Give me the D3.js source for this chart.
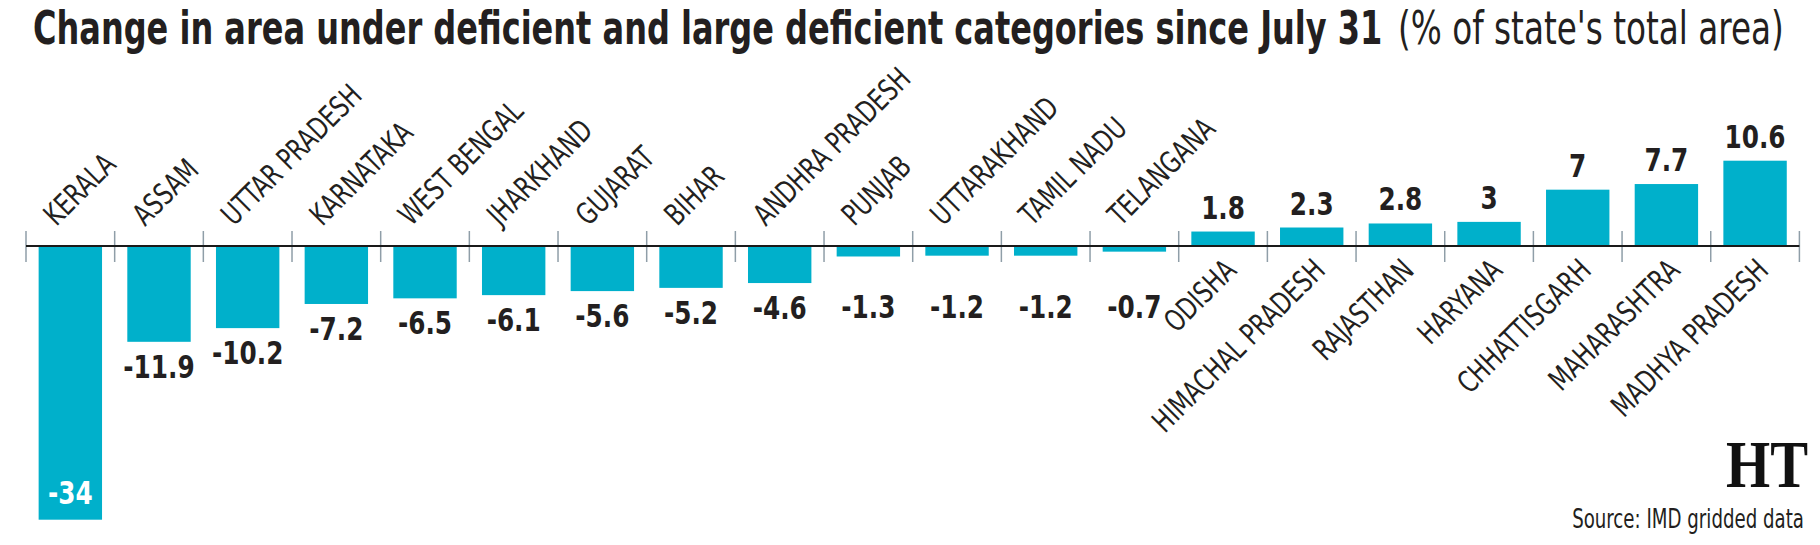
<!DOCTYPE html>
<meta charset="utf-8">
<style>
  body { margin: 0; background: #fff; }
</style>

<!-- Load d3.js -->
<script src="https://d3js.org/d3.v7.min.js"></script>

<div id="my_dataviz"></div>

<script>
// data
var states = ["KERALA", "ASSAM", "UTTAR PRADESH", "KARNATAKA", "WEST BENGAL", "JHARKHAND",
  "GUJARAT", "BIHAR", "ANDHRA PRADESH", "PUNJAB", "UTTARAKHAND", "TAMIL NADU", "TELANGANA",
  "ODISHA", "HIMACHAL PRADESH", "RAJASTHAN", "HARYANA", "CHHATTISGARH", "MAHARASHTRA", "MADHYA PRADESH"];
var change = [-34, -11.9, -10.2, -7.2, -6.5, -6.1, -5.6, -5.2, -4.6, -1.3, -1.2, -1.2, -0.7,
  1.8, 2.3, 2.8, 3, 7, 7.7, 10.6];
var valueLabels = ["-34", "-11.9", "-10.2", "-7.2", "-6.5", "-6.1", "-5.6", "-5.2", "-4.6", "-1.3",
  "-1.2", "-1.2", "-0.7", "1.8", "2.3", "2.8", "3", "7", "7.7", "10.6"];

var width = 1820, height = 545;
var ink = "#231f20", barColor = "#00b0cb";
var cond = "'Liberation Sans Narrow', 'DejaVu Sans Condensed', 'Roboto', sans-serif";

var svg = d3.select("#my_dataviz")
  .append("svg")
    .attr("width", width)
    .attr("height", height);

// squeeze a text horizontally so it is w pixels wide (the font here is wider than the original)
function squeeze(sel, x, y, w, extra) {
  var n = sel.node().getComputedTextLength();
  sel.attr("x", null).attr("y", null)
    .attr("transform", "translate(" + x + "," + y + ")" + (extra || "") + " scale(" + (w / n) + ",1)");
}

// scales
var x = d3.scaleBand()
  .domain(states)
  .range([26, 1799.4])
  .paddingInner(0.285)
  .paddingOuter(0.1425);

var y = d3.scaleLinear()
  .domain([-34, 10.6])
  .range([519.7, 160.7]);

var base = y(0);
var step = x.step();
var gap = (step - x.bandwidth()) / 2;

// title, two pieces
var t1 = svg.append("text")
  .attr("font-family", cond).attr("font-weight", "bold").attr("font-size", 46)
  .attr("fill", ink)
  .text("Change in area under deficient and large deficient categories since July 31");
squeeze(t1, 33, 44, 1350);

var t2 = svg.append("text")
  .attr("font-family", cond).attr("font-size", 46)
  .attr("fill", ink)
  .text("(% of state's total area)");
squeeze(t2, 1398, 44, 386);

// bars
svg.selectAll("rect.bar")
  .data(states)
  .enter()
  .append("rect")
    .attr("class", "bar")
    .attr("x", function(d) { return x(d); })
    .attr("width", x.bandwidth())
    .attr("y", function(d, i) { return Math.min(y(change[i]), base); })
    .attr("height", function(d, i) { return Math.abs(y(change[i]) - base); })
    .attr("fill", barColor);

// ticks between bars
var tickX = states.map(function(d) { return x(d) - gap; });
tickX.push(x(states[states.length - 1]) + x.bandwidth() + gap);
svg.selectAll("line.tick")
  .data(tickX)
  .enter()
  .append("line")
    .attr("x1", function(d) { return d; })
    .attr("x2", function(d) { return d; })
    .attr("y1", base - 15)
    .attr("y2", base + 16)
    .attr("stroke", "#8f9ea8")
    .attr("stroke-width", 1.5);

// baseline
svg.append("line")
  .attr("x1", tickX[0]).attr("x2", tickX[tickX.length - 1])
  .attr("y1", base).attr("y2", base)
  .attr("stroke", "#1a1a1a")
  .attr("stroke-width", 2);

// value labels
svg.selectAll("text.val")
  .data(states)
  .enter()
  .append("text")
    .attr("class", "val")
    .attr("transform", function(d, i) {
      var v = change[i], ty;
      if (v > 0) ty = y(v) - 13;
      else if (v <= -30) ty = y(v) - 16;
      else ty = Math.max(y(v) + 36, 318);
      return "translate(" + (x(d) + x.bandwidth() / 2) + "," + ty + ") scale(0.86,1)";
    })
    .attr("text-anchor", "middle")
    .attr("font-family", cond).attr("font-weight", "bold").attr("font-size", 32)
    .attr("fill", function(d, i) { return change[i] <= -30 ? "#fff" : ink; })
    .text(function(d, i) { return valueLabels[i]; });

// state names, rotated
var probe = svg.append("text")
  .attr("font-family", cond).attr("font-size", 30)
  .text("HIMACHAL PRADESH");
var sx = 229 / probe.node().getComputedTextLength();
probe.remove();

svg.selectAll("text.cat")
  .data(states)
  .enter()
  .append("text")
    .attr("class", "cat")
    .attr("transform", function(d, i) {
      var cx = x(d) + x.bandwidth() / 2;
      if (change[i] < 0)
        return "translate(" + (cx - 14) + "," + (base - 19) + ") rotate(-45) scale(" + sx + ",1)";
      return "translate(" + (cx + 15) + "," + (base + 26) + ") rotate(-45) scale(" + sx + ",1)";
    })
    .attr("text-anchor", function(d, i) { return change[i] < 0 ? "start" : "end"; })
    .attr("font-family", cond).attr("font-size", 30)
    .attr("fill", ink)
    .text(function(d) { return d; });

// HT mark and source
var ht = svg.append("text")
  .attr("text-anchor", "end")
  .attr("font-family", "'Liberation Serif', 'DejaVu Serif', serif")
  .attr("font-weight", "bold").attr("font-size", 68)
  .attr("fill", "#111")
  .text("HT");
squeeze(ht, 1808, 487, 82);

var src = svg.append("text")
  .attr("text-anchor", "end")
  .attr("font-family", cond).attr("font-size", 26)
  .attr("fill", ink)
  .text("Source: IMD gridded data");
squeeze(src, 1804, 528, 232);
</script>
